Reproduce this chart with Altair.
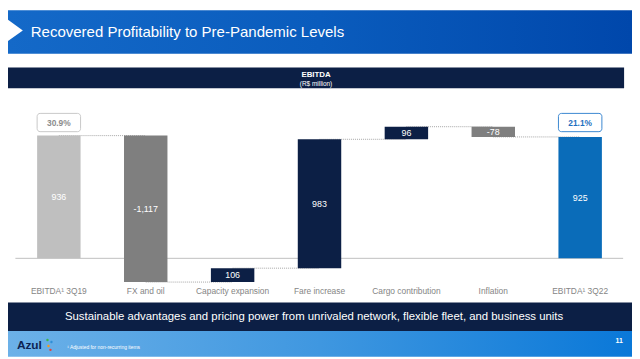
import altair as alt
import pandas as pd

# ---- data ----
categories = ["EBITDA¹ 3Q19", "FX and oil", "Capacity expansion", "Fare increase",
              "Cargo contribution", "Inflation", "EBITDA¹ 3Q22"]
values = [936, -1117, 106, 983, 96, -78, 925]
kinds = ["total", "delta", "delta", "delta", "delta", "delta", "total"]
value_labels = ["936", "-1,117", "106", "983", "96", "-78", "925"]
margin_cats = ["EBITDA¹ 3Q19", "EBITDA¹ 3Q22"]
margin_labels = ["30.9%", "21.1%"]

title_text = "Recovered Profitability to Pre-Pandemic Levels"
panel_title = "EBITDA"
panel_sub = "(R$ million)"
banner_text = "Sustainable advantages and pricing power from unrivaled network, flexible fleet, and business units"
footnote = "¹ Adjusted for non-recurring items"
page_no = "11"
brand = "Azul"

bar_colors = ["#bfbfbf", "#7f7f7f", "#0c1f45", "#0c1f45", "#0c1f45", "#7f7f7f", "#0a6cb9"]
icon_colors = ["#3cb54a", "#2e8fd8", "#f39a1e", "#e2403a"]
FONT = "Arial, Liberation Sans, sans-serif"

# ---- waterfall table ----
rows = []
running = 0
for cat, v, k, lab in zip(categories, values, kinds, value_labels):
    if k == "total":
        start, end = 0, v
        running = v
    else:
        start, end = running, running + v
        running = end
    rows.append({"cat": cat, "start": start, "end": end, "mid": (start + end) / 2, "label": lab})
wf = pd.DataFrame(rows)

conn = pd.DataFrame({
    "cat": categories[:-1],
    "next": categories[1:],
    "level": wf["end"].tolist()[:-1],
})
marg = pd.DataFrame({"cat": margin_cats, "label": margin_labels})
one = pd.DataFrame({"a": [0]})

W, H = 632, 351
xs = alt.Scale(domain=categories, range=[7.5, 623.5], paddingInner=0.5, paddingOuter=0.25)
ys = alt.Scale(domain=[0, 936], range=[251.3, 127], zero=False, nice=False)
X = alt.X("cat:N", sort=categories, scale=xs, axis=None)

# decorations
header = alt.Chart(one).mark_rect(
    color=alt.LinearGradient(gradient="linear", x1=0, x2=1, y1=0, y2=0,
                             stops=[alt.GradientStop(color="#1469c8", offset=0),
                                    alt.GradientStop(color="#0a5cbd", offset=0.5),
                                    alt.GradientStop(color="#0047ab", offset=1)])
).encode(x=alt.value(0), x2=alt.value(W), y=alt.value(0), y2=alt.value(44))

chevron = alt.Chart(one).mark_point(
    shape="M-0.697,-1L0.697,0L-0.697,1Z", filled=True, color="white", opacity=1, size=1089
).encode(x=alt.value(3.5), y=alt.value(20.5))

title = alt.Chart(one).mark_text(
    text=title_text, font=FONT, fontSize=15.2, color="white", align="left", baseline="alphabetic"
).encode(x=alt.value(23), y=alt.value(27))

panel = alt.Chart(one).mark_rect(color="#0c1f45").encode(
    x=alt.value(0), x2=alt.value(624), y=alt.value(58), y2=alt.value(79))
panel_t1 = alt.Chart(one).mark_text(
    text=panel_title, font=FONT, fontSize=8, fontWeight="bold", color="white"
).encode(x=alt.value(312), y=alt.value(66))
panel_t2 = alt.Chart(one).mark_text(
    text=panel_sub, font=FONT, fontSize=6.5, color="white"
).encode(x=alt.value(312), y=alt.value(75))

banner = alt.Chart(one).mark_rect(color="#0c1f45").encode(
    x=alt.value(0), x2=alt.value(W), y=alt.value(296), y2=alt.value(325))
banner_t = alt.Chart(one).mark_text(
    text=banner_text, font=FONT, fontSize=11.5, color="white"
).encode(x=alt.value(310), y=alt.value(311))

footer = alt.Chart(one).mark_rect(
    color=alt.LinearGradient(gradient="linear", x1=0, x2=1, y1=0, y2=0,
                             stops=[alt.GradientStop(color="#6cb1e8", offset=0),
                                    alt.GradientStop(color="#3f97e0", offset=0.5),
                                    alt.GradientStop(color="#0a78d8", offset=1)])
).encode(x=alt.value(0), x2=alt.value(W), y=alt.value(325), y2=alt.value(H))
brand_t = alt.Chart(one).mark_text(
    text=brand, font=FONT, fontSize=12, fontWeight="bold", color="#0d2352", align="left"
).encode(x=alt.value(9), y=alt.value(339))
icon = alt.layer(*[
    alt.Chart(one).mark_point(shape="circle", filled=True, size=6, color=c, opacity=1).encode(
        x=alt.value(px), y=alt.value(py))
    for c, (px, py) in zip(icon_colors, [(40, 334), (44, 336), (41, 340), (43, 344)])
])
foot_t = alt.Chart(one).mark_text(
    text=footnote, font=FONT, fontSize=5, color="white", align="left"
).encode(x=alt.value(60), y=alt.value(341))
page_t = alt.Chart(one).mark_text(
    text=page_no, font=FONT, fontSize=7, fontWeight="bold", color="white"
).encode(x=alt.value(619), y=alt.value(335))

# chart marks
zero_line = alt.Chart(one).mark_rule(color="#bfbfbf", strokeWidth=1).encode(
    y=alt.Y("a:Q", scale=ys, axis=None), x=alt.value(7.5), x2=alt.value(623))

connectors = alt.Chart(conn).mark_rule(color="#a6a6a6", strokeWidth=1, strokeDash=[1, 1]).encode(
    x=X, x2="next:N", y=alt.Y("level:Q", scale=ys, axis=None))

bars = alt.Chart(wf).mark_bar().encode(
    x=X,
    y=alt.Y("start:Q", scale=ys, axis=None),
    y2="end:Q",
    color=alt.Color("cat:N", scale=alt.Scale(domain=categories, range=bar_colors), legend=None),
)

bar_labels = alt.Chart(wf).mark_text(font=FONT, fontSize=9, color="white").encode(
    x=X, y=alt.Y("mid:Q", scale=ys, axis=None), text="label:N")

cat_labels = alt.Chart(wf).mark_text(font=FONT, fontSize=8.5, color="#858585").encode(
    x=X, y=alt.value(284), text="cat:N")

boxes = alt.Chart(marg).mark_bar(fill="white", strokeWidth=1, cornerRadius=3).encode(
    x=X, y=alt.value(104.5), y2=alt.value(123),
    stroke=alt.Color("cat:N", scale=alt.Scale(domain=margin_cats, range=["#c8c8c8", "#3a86d0"]), legend=None),
)
box_text = alt.Chart(marg).mark_text(font=FONT, fontSize=8.5, fontWeight="bold").encode(
    x=X, y=alt.value(114), text="label:N",
    color=alt.Color("cat:N", scale=alt.Scale(domain=margin_cats, range=["#8c8c8c", "#1f6fc0"]), legend=None),
)

chart = alt.layer(
    header, chevron, title, panel, panel_t1, panel_t2,
    zero_line, connectors, bars, bar_labels, cat_labels, boxes, box_text,
    banner, banner_t, footer, brand_t, icon, foot_t, page_t,
).resolve_scale(color="independent", stroke="independent").properties(
    width=W, height=H, autosize="none", padding=0,
).configure_view(stroke=None)

chart.save("out.html", embed_options={"renderer": "svg", "actions": False})
